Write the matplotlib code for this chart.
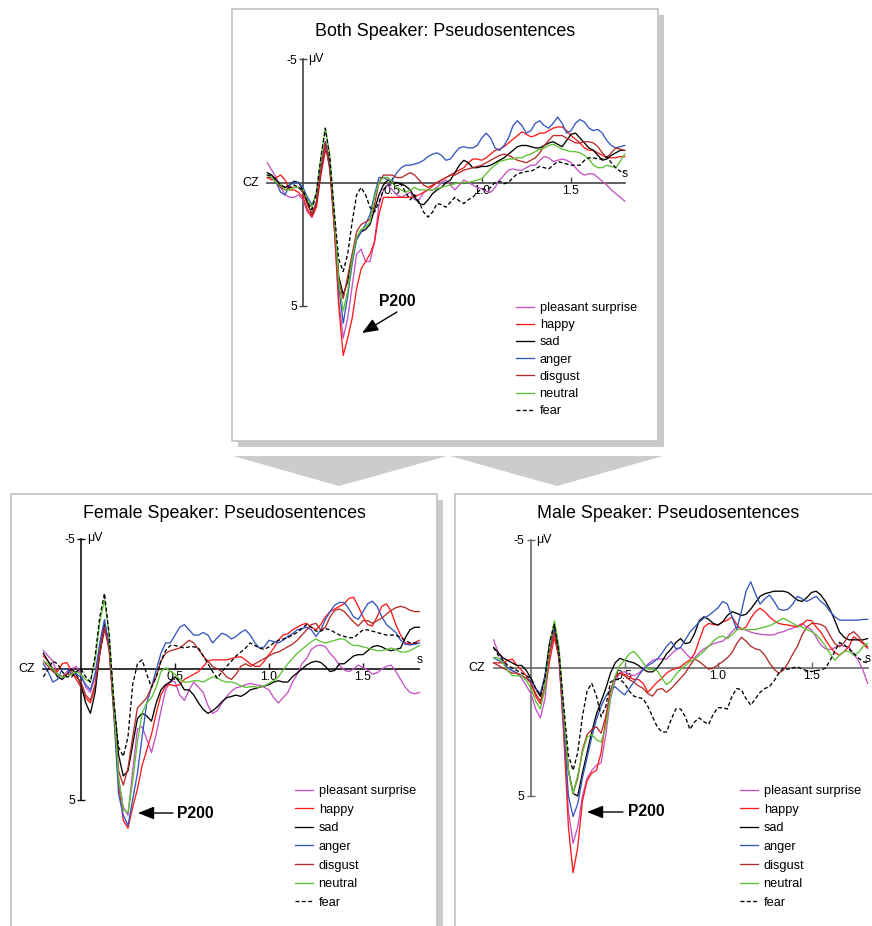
import numpy as np
import matplotlib
matplotlib.use('Agg')
import matplotlib.pyplot as plt
from matplotlib.patches import Rectangle, Polygon

plt.rcParams['font.family'] = ['Liberation Sans', 'DejaVu Sans']

W, H = 872, 926

# sample times (s), one value every 25 ms from -0.2 to 1.8 s
times = np.linspace(-0.2, 1.8, 81)

conditions = ['pleasant surprise', 'happy', 'sad', 'anger', 'disgust', 'neutral', 'fear']
colors = ['#c452c4', '#ff1a1a', '#000000', '#3556bd', '#b52c2c', '#5cc234', '#000000']
styles = ['-', '-', '-', '-', '-', '-', '--']

# ---- Both speakers (uV, negative up) ----
both_surprise = [-0.8, -0.5, -0.2, 0.2, 0.5, 0.6, 0.6, 0.5, 0.7, 1.2,
                 1.4, 0.9, -0.4, -1.4, -0.8, 1.8, 4.8, 6.3, 5.5, 4.2,
                 2.9, 2.7, 3.2, 3.2, 2.4, 0.9, 0.3, 0.1, 0.3, 0.5,
                 0.6, 0.5, 0.4, 0.7, 0.7, 0.4, 0.3, 0.3, 0.2, 0.0,
                 -0.1, 0.1, 0.3, 0.1, -0.1, 0.0, 0.1, 0.2, 0.25, 0.35,
                 0.4, 0.2, -0.1, -0.3, -0.5, -0.55, -0.5, -0.5, -0.6, -0.7,
                 -0.7, -0.9, -1.05, -1.0, -0.85, -0.9, -0.95, -0.9, -0.8, -0.6,
                 -0.4, -0.3, -0.35, -0.35, -0.2, -0.05, 0.1, 0.3, 0.45, 0.6,
                 0.75]
both_happy = [-0.2, -0.1, -0.2, -0.3, -0.1, 0.3, 0.3, 0.4, 0.6, 1.1,
              1.4, 1.0, -0.3, -1.3, -0.9, 1.8, 5.0, 7.0, 6.3, 5.5,
              4.3, 3.5, 3.2, 2.9, 2.4, 1.3, 0.6, 0.6, 0.6, 0.6,
              0.6, 0.6, 0.6, 0.55, 0.5, 0.4, 0.3, 0.15, 0.0, -0.1,
              -0.2, -0.3, -0.4, -0.5, -0.6, -0.8, -0.95, -0.95, -0.9, -1.0,
              -1.15, -1.3, -1.35, -1.45, -1.6, -1.75, -1.9, -2.05, -1.95, -1.85,
              -1.9, -2.0, -2.0, -2.1, -2.2, -2.25, -2.25, -2.1, -1.9, -1.75,
              -1.6, -1.4, -1.3, -1.3, -1.2, -1.1, -1.0, -1.0, -1.0, -1.05,
              -1.05]
both_sad = [-0.4, -0.3, -0.1, 0.1, 0.2, 0.1, -0.05, 0.0, 0.3, 0.8,
            1.3, 0.8, -0.5, -1.65, -0.7, 1.5, 3.8, 4.55, 4.0, 3.0,
            2.3, 2.0, 1.9, 1.7, 1.1, 0.5, 0.1, -0.1, 0.0, 0.0,
            0.05, 0.15, 0.3, 0.6, 0.85, 0.9, 0.7, 0.45, 0.3, 0.2,
            0.0, -0.1, -0.4, -0.7, -0.9, -0.8, -0.6, -0.6, -0.65, -0.65,
            -0.7, -0.8, -0.9, -1.0, -1.15, -1.3, -1.45, -1.5, -1.5, -1.45,
            -1.4, -1.4, -1.5, -1.6, -1.65, -1.55, -1.45, -1.7, -1.95, -2.0,
            -1.8, -1.6, -1.4, -1.3, -1.1, -0.9, -0.95, -1.1, -1.2, -1.3,
            -1.3]
both_anger = [-0.3, -0.2, 0.0, 0.4, 0.5, 0.1, 0.0, 0.0, 0.2, 0.6,
              0.9, 0.5, -0.6, -1.6, -0.6, 1.6, 4.2, 5.7, 4.6, 3.3,
              2.3, 2.0, 1.7, 1.3, 0.5, -0.2, -0.2, -0.1, -0.1, -0.4,
              -0.6, -0.7, -0.7, -0.75, -0.8, -0.9, -1.05, -1.15, -1.2, -1.1,
              -0.9, -0.95, -1.2, -1.4, -1.45, -1.4, -1.4, -1.5, -1.8, -2.0,
              -1.8, -1.4, -1.3, -1.5, -1.8, -2.3, -2.5, -2.3, -2.0, -2.1,
              -2.4, -2.5, -2.3, -2.2, -2.4, -2.65, -2.4, -2.0, -2.1, -2.4,
              -2.55, -2.45, -2.2, -2.1, -2.15, -2.0, -1.7, -1.5, -1.4, -1.45,
              -1.5]
both_disgust = [-0.2, -0.2, 0.0, 0.2, 0.3, 0.2, 0.2, 0.2, 0.4, 0.9,
                1.3, 0.8, -0.5, -1.6, -0.5, 1.8, 4.0, 4.7, 3.8, 2.9,
                2.0, 1.7, 1.6, 1.5, 0.9, 0.0, -0.3, -0.3, -0.3, -0.2,
                -0.2, -0.3, -0.4, -0.3, -0.1, 0.1, 0.2, 0.1, 0.0, -0.1,
                -0.2, -0.3, -0.3, -0.4, -0.5, -0.55, -0.6, -0.65, -0.7, -0.8,
                -0.9, -1.0, -1.1, -1.15, -1.1, -1.0, -0.9, -0.85, -0.8, -0.9,
                -1.0, -1.2, -1.5, -1.7, -1.9, -1.9, -1.9, -1.8, -1.7, -1.6,
                -1.6, -1.65, -1.65, -1.6, -1.45, -1.2, -1.0, -1.2, -1.4, -1.35,
                -1.3]
both_neutral = [-0.3, -0.2, 0.0, 0.1, 0.3, 0.3, 0.2, 0.2, 0.3, 0.7,
                1.0, 0.4, -1.0, -2.2, -1.1, 1.3, 4.0, 5.2, 4.4, 3.1,
                2.2, 1.9, 1.8, 1.6, 0.6, 0.0, -0.2, -0.2, 0.0, 0.2,
                0.3, 0.4, 0.3, 0.2, 0.3, 0.3, 0.3, 0.3, 0.25, 0.2,
                0.15, 0.1, 0.05, 0.0, 0.0, 0.0, -0.05, -0.1, -0.15, -0.35,
                -0.55, -0.7, -0.85, -0.9, -0.95, -0.95, -1.0, -1.0, -1.1, -1.15,
                -1.25, -1.35, -1.4, -1.5, -1.55, -1.45, -1.35, -1.3, -1.25, -1.25,
                -1.2, -1.1, -0.95, -0.7, -0.6, -0.6, -0.7, -0.65, -0.6, -0.85,
                -1.15]
both_fear = [-0.3, -0.3, -0.1, 0.1, 0.2, 0.2, 0.1, 0.2, 0.3, 0.8,
             1.1, 0.4, -1.0, -2.2, -1.0, 1.2, 3.1, 3.6, 2.9, 1.6,
             0.5, 0.2, 0.5, 1.0, 1.2, 0.8, 0.3, 0.1, 0.1, 0.0,
             0.1, 0.4, 0.7, 0.5, 0.8, 1.2, 1.4, 1.2, 0.85, 0.9,
             1.0, 0.8, 0.6, 0.75, 0.85, 0.7, 0.6, 0.4, 0.25, 0.3,
             0.2, 0.0, -0.05, 0.05, 0.0, -0.2, -0.35, -0.4, -0.45, -0.45,
             -0.55, -0.65, -0.6, -0.55, -0.7, -0.85, -0.8, -0.75, -0.7, -0.7,
             -0.7, -0.9, -1.0, -1.0, -0.95, -0.95, -1.05, -0.8, -0.6, -0.45,
             -0.45]

# ---- Female speaker ----
female_surprise = [-0.7, -0.5, -0.3, 0.2, 0.3, 0.1, 0.0, -0.1, 0.2, 0.7,
                   0.9, 0.3, -0.9, -1.8, -1.0, 1.4, 4.2, 5.3, 5.6, 3.9,
                   2.3, 2.2, 2.7, 3.2, 2.5, 1.6, 0.8, 0.45, 0.5, 1.0,
                   1.2, 0.8, 0.5, 0.7, 0.9, 1.4, 1.7, 1.6, 1.3, 1.05,
                   0.85, 0.72, 0.68, 0.6, 0.55, 0.6, 0.62, 0.7, 0.8, 1.1,
                   1.3, 1.1, 0.9, 0.5, 0.2, -0.2, -0.4, -0.75, -0.88, -0.92,
                   -0.85, -0.6, -0.4, -0.15, 0.04, 0.1, 0.0, -0.15, -0.05, 0.05,
                   0.2, 0.15, 0.0, -0.1, -0.15, 0.1, 0.4, 0.7, 0.9, 0.95,
                   0.9]
female_happy = [-0.5, -0.3, 0.0, 0.1, -0.2, -0.25, 0.1, 0.4, 0.7, 1.1,
                1.3, 0.7, -0.6, -1.5, -0.9, 1.6, 4.4, 5.8, 6.1, 5.3,
                4.6, 3.7, 3.1, 2.5, 1.7, 1.0, 0.65, 0.6, 0.65, 0.6,
                0.4, 0.3, 0.2, 0.1, -0.1, -0.3, -0.35, -0.35, -0.35, -0.35,
                -0.4, -0.45, -0.47, -0.35, -0.2, -0.1, -0.1, -0.3, -0.55, -0.8,
                -1.1, -1.3, -1.35, -1.5, -1.6, -1.7, -1.75, -1.6, -1.5, -1.7,
                -2.0, -2.2, -2.3, -2.4, -2.5, -2.7, -2.75, -2.4, -2.0, -1.7,
                -1.65, -2.0, -2.4, -2.5, -2.2, -1.7, -1.3, -1.0, -0.95, -1.0,
                -1.1]
female_sad = [-0.6, -0.3, 0.0, 0.3, 0.4, 0.2, 0.0, 0.2, 0.6, 1.3,
              1.7, 0.9, -0.6, -1.7, -0.8, 1.3, 3.3, 4.1, 3.9, 2.9,
              1.9, 1.7, 1.8, 2.0, 1.3, 0.8, 0.6, 0.5, 0.3, 0.5,
              0.8, 0.8, 1.0, 1.3, 1.55, 1.7, 1.6, 1.45, 1.25, 1.1,
              1.05, 1.0, 1.05, 0.95, 0.8, 0.75, 0.7, 0.65, 0.6, 0.5,
              0.45, 0.5, 0.5, 0.3, 0.15, 0.0, -0.15, -0.25, -0.3, -0.25,
              -0.1, 0.1, 0.05, -0.2, -0.2, -0.35, -0.5, -0.55, -0.55, -0.7,
              -0.85, -0.9, -0.85, -0.75, -0.7, -0.75, -0.8, -1.2, -1.5, -1.6,
              -1.6]
female_anger = [-0.2, 0.1, 0.5, 0.4, 0.0, 0.0, 0.2, 0.2, 0.3, 0.6,
                0.8, 0.2, -1.0, -1.9, -0.8, 1.8, 4.8, 5.6, 6.0, 5.0,
                4.0, 2.6, 1.3, 0.7, 0.05, -0.6, -1.0, -1.0, -1.3, -1.6,
                -1.7, -1.5, -1.3, -1.3, -1.4, -1.3, -1.0, -1.2, -1.37, -1.3,
                -1.15, -1.25, -1.4, -1.5, -1.3, -1.0, -0.8, -0.85, -1.1, -1.05,
                -1.0, -1.1, -1.25, -1.35, -1.5, -1.55, -1.6, -1.5, -1.25, -1.5,
                -1.9, -2.2, -2.45, -2.55, -2.55, -2.3, -2.0, -1.9, -2.2, -2.5,
                -2.6, -2.4, -2.0, -1.7, -1.55, -1.4, -1.1, -0.95, -0.92, -0.95,
                -1.0]
female_disgust = [-0.3, -0.1, 0.1, 0.2, 0.3, 0.2, 0.2, 0.3, 0.5, 1.0,
                  1.2, 0.6, -0.6, -1.6, -0.7, 1.7, 3.9, 4.45, 3.8, 2.6,
                  1.5, 1.3, 1.1, 0.7, 0.3, -0.3, -0.6, -0.7, -0.75, -0.8,
                  -0.95, -1.1, -1.0, -0.75, -0.5, -0.3, -0.1, 0.0, 0.1, 0.3,
                  0.4, 0.2, -0.1, -0.2, -0.1, -0.2, -0.3, -0.4, -0.5, -0.6,
                  -0.65, -0.75, -0.85, -0.95, -1.1, -1.3, -1.5, -1.7, -1.75, -1.5,
                  -1.6, -2.0, -2.25, -2.3, -2.2, -2.0, -1.8, -1.65, -1.85, -1.85,
                  -1.75, -1.85, -1.95, -2.1, -2.25, -2.35, -2.4, -2.35, -2.25, -2.2,
                  -2.2]
female_neutral = [-0.3, -0.2, 0.0, 0.2, 0.3, 0.3, 0.2, 0.1, 0.2, 0.4,
                  0.5, -0.3, -1.8, -2.65, -1.3, 1.4, 4.2, 5.4, 5.5, 4.3,
                  2.8, 1.7, 1.3, 1.1, 0.7, 0.1, -0.05, 0.1, 0.2, 0.4,
                  0.5, 0.5, 0.45, 0.45, 0.5, 0.4, 0.3, 0.35, 0.45, 0.5,
                  0.5, 0.55, 0.65, 0.7, 0.68, 0.68, 0.7, 0.65, 0.55, 0.45,
                  0.3, 0.05, -0.2, -0.4, -0.6, -0.75, -0.9, -1.05, -1.15, -1.05,
                  -1.0, -1.05, -1.1, -1.15, -1.15, -1.0, -0.9, -0.9, -0.85, -0.8,
                  -0.75, -0.7, -0.7, -0.75, -0.8, -0.75, -0.65, -0.65, -0.7, -0.8,
                  -0.9]
female_fear = [0.3, 0.0, -0.3, -0.2, 0.1, 0.3, 0.3, 0.1, 0.0, 0.3,
               0.5, -0.5, -2.0, -2.9, -1.3, 1.3, 3.0, 3.35, 2.6, 0.6,
               -0.2, -0.35, 0.2, 0.7, 0.3, -0.3, -0.7, -0.9, -0.9, -0.85,
               -0.8, -0.85, -0.85, -0.8, -0.5, -0.2, 0.1, 0.35, 0.1, -0.1,
               -0.3, -0.5, -0.65, -0.8, -1.0, -0.9, -0.8, -0.75, -0.85, -1.0,
               -1.1, -1.15, -1.2, -1.3, -1.4, -1.55, -1.7, -1.6, -1.45, -1.45,
               -1.55, -1.5, -1.4, -1.3, -1.25, -1.2, -1.2, -1.35, -1.5, -1.5,
               -1.45, -1.4, -1.35, -1.3, -1.3, -1.3, -1.2, -1.1, -1.0, -1.0,
               -1.0]

# ---- Male speaker ----
male_surprise = [-1.1, -0.6, -0.3, 0.0, 0.1, 0.2, 0.4, 0.7, 1.0, 1.6,
                 1.95, 1.2, -0.6, -1.5, -0.3, 2.4, 5.6, 6.85, 6.2, 5.0,
                 4.3, 4.0, 3.8, 3.7, 2.6, 1.2, 0.5, 0.2, 0.14, 0.25,
                 0.3, 0.2, 0.05, -0.15, -0.3, -0.35, -0.35, -0.35, -0.55, -0.7,
                 -0.8, -0.6, -0.4, -0.4, -0.6, -0.75, -0.85, -0.95, -1.0, -1.05,
                 -1.2, -1.42, -1.6, -1.55, -1.48, -1.4, -1.35, -1.32, -1.3, -1.29,
                 -1.3, -1.38, -1.42, -1.5, -1.55, -1.65, -1.74, -1.6, -1.5, -1.2,
                 -0.9, -0.75, -0.72, -0.8, -0.9, -0.85, -0.83, -0.55, -0.3, 0.08,
                 0.6]
male_happy = [-0.2, -0.2, -0.2, -0.3, -0.35, -0.1, 0.1, 0.3, 0.6, 1.1,
              1.4, 0.8, -0.3, -1.2, -0.4, 2.6, 6.2, 8.0, 7.0, 5.2,
              4.4, 4.1, 4.0, 3.3, 2.0, 0.9, 0.35, 0.2, 0.25, 0.34,
              0.45, 0.45, 0.6, 0.95, 0.75, 0.55, 0.4, 0.2, 0.08, 0.02,
              -0.05, -0.2, -0.31, -0.57, -1.1, -1.6, -1.74, -1.7, -1.68, -1.8,
              -1.87, -2.0, -1.7, -1.5, -1.6, -1.94, -2.2, -2.33, -2.2, -2.0,
              -1.85, -1.74, -1.7, -1.68, -1.64, -1.6, -1.7, -1.87, -1.85, -1.6,
              -1.4, -1.1, -0.83, -0.6, -0.5, -0.65, -0.83, -1.22, -1.1, -0.96,
              -0.77]
male_sad = [-0.8, -0.6, -0.4, -0.3, -0.2, -0.1, -0.1, 0.1, 0.4, 0.8,
            1.1, 0.3, -1.0, -1.75, -0.5, 1.9, 4.0, 4.9, 5.0, 4.1,
            3.3, 2.5, 1.8, 1.3, 0.8, 0.2, -0.2, -0.38, -0.3, -0.25,
            -0.2, -0.1, 0.05, 0.15, 0.15, 0.0, -0.25, -0.55, -0.75, -1.0,
            -1.15, -0.95, -1.0, -1.35, -1.85, -2.0, -1.9, -1.74, -1.68, -1.8,
            -2.05, -2.2, -2.14, -2.05, -2.1, -2.3, -2.55, -2.8, -2.9, -2.95,
            -3.0, -3.0, -3.0, -2.95, -2.8, -2.65, -2.6, -2.75, -2.95, -3.0,
            -2.85, -2.6, -2.27, -1.85, -1.4, -1.2, -1.1, -1.1, -1.1, -1.1,
            -1.15]
male_anger = [-0.4, -0.3, -0.2, 0.0, 0.1, 0.2, 0.3, 0.4, 0.5, 0.8,
              1.0, 0.3, -0.8, -1.5, -0.4, 2.2, 5.0, 5.8, 5.3, 4.3,
              3.5, 2.7, 2.0, 1.5, 1.1, 0.85, 0.73, 0.9, 1.05, 0.8,
              0.55, 0.3, 0.05, -0.1, -0.2, -0.35, -0.57, -0.85, -1.03, -0.75,
              -0.8, -1.1, -1.4, -1.6, -1.8, -1.95, -2.05, -2.2, -2.35, -2.6,
              -2.5, -2.0, -1.5, -2.2, -3.0, -3.37, -2.9, -2.5, -2.7, -2.85,
              -2.6, -2.3, -2.25, -2.3, -2.5, -2.8, -2.7, -2.6, -2.7, -2.8,
              -2.6, -2.45, -2.2, -2.0, -1.87, -1.87, -1.87, -1.87, -1.87, -1.9,
              -1.9]
male_disgust = [-0.2, -0.1, 0.0, 0.1, 0.2, 0.2, 0.3, 0.4, 0.6, 1.0,
                1.3, 0.7, -0.6, -1.4, -0.4, 1.8, 4.0, 4.9, 4.3, 3.2,
                2.6, 2.4, 2.3, 2.55, 1.9, 0.9, 0.35, 0.2, 0.3, 0.45,
                0.55, 0.7, 0.8, 1.0, 1.1, 0.85, 0.8, 0.95, 0.8, 0.6,
                0.4, 0.2, -0.1, -0.35, -0.25, -0.1, 0.05, 0.0, -0.12, -0.25,
                -0.4, -0.6, -0.95, -1.2, -1.05, -0.85, -0.75, -0.7, -0.5, -0.2,
                0.05, 0.2, 0.08, -0.2, -0.55, -0.85, -1.3, -1.6, -1.74, -1.74,
                -1.7, -1.6, -1.25, -0.95, -0.83, -1.0, -1.3, -1.42, -1.25, -1.0,
                -0.83]
male_neutral = [-0.4, -0.4, -0.2, 0.1, 0.3, 0.3, 0.3, 0.5, 0.8, 1.3,
                1.6, 0.8, -0.9, -1.85, -0.8, 1.7, 4.0, 4.9, 4.2, 3.3,
                2.7, 2.6, 2.8, 2.9, 2.3, 1.1, 0.3, -0.1, -0.3, -0.55,
                -0.65, -0.45, -0.2, 0.05, 0.05, 0.1, 0.4, 0.65, 0.5, 0.25,
                0.05, -0.1, -0.25, -0.35, -0.5, -0.65, -0.85, -1.05, -1.2, -1.25,
                -1.15, -1.3, -1.48, -1.55, -1.5, -1.5, -1.5, -1.55, -1.6, -1.65,
                -1.74, -1.85, -1.94, -1.85, -1.74, -1.65, -1.6, -1.5, -1.42, -1.3,
                -1.1, -0.85, -0.55, -0.3, -0.5, -0.65, -0.65, -0.5, -0.6, -0.83,
                -0.96]
male_fear = [-0.8, -0.5, -0.3, -0.1, 0.0, 0.1, 0.2, 0.3, 0.4, 0.8,
             1.1, 0.4, -1.0, -1.7, -0.6, 1.5, 3.4, 4.0, 3.3, 1.9,
             0.9, 0.6, 1.1, 1.9, 1.5, 0.55, 0.45, 0.45, 0.6, 0.9,
             1.1, 1.15, 1.2, 1.5, 1.9, 2.3, 2.5, 2.5, 2.0, 1.6,
             1.6, 1.9, 2.4, 2.1, 1.95, 2.1, 2.2, 1.8, 1.55, 1.55,
             1.6, 1.1, 0.8, 0.85, 1.2, 1.45, 1.2, 0.95, 0.8, 0.73,
             0.5, 0.2, 0.0, 0.05, 0.0, -0.05, 0.05, 0.1, 0.14, 0.1,
             0.08, 0.0, -0.3, -0.65, -1.0, -0.9, -0.75, -0.57, -0.4, -0.25,
             -0.2]

both = [both_surprise, both_happy, both_sad, both_anger, both_disgust, both_neutral, both_fear]
female = [female_surprise, female_happy, female_sad, female_anger, female_disgust, female_neutral, female_fear]
male = [male_surprise, male_happy, male_sad, male_anger, male_disgust, male_neutral, male_fear]

fig = plt.figure(figsize=(W / 100, H / 100), dpi=100)

# background layer in pixel coordinates: boxes, shadows, big arrows, labels
bg = fig.add_axes([0, 0, 1, 1])
bg.set_xlim(0, W)
bg.set_ylim(H, 0)
bg.axis('off')

def box(x, y, w, h):
    bg.add_patch(Rectangle((x + 6, y + 6), w, h, facecolor='#cbcbcb', edgecolor='none'))
    bg.add_patch(Rectangle((x, y), w, h, facecolor='white', edgecolor='#c6c6c6', lw=1.3))

box(232, 9, 426, 432)
box(11, 494, 426, 500)
box(455, 494, 426, 500)
bg.add_patch(Polygon([(233, 456), (447, 456), (339, 486)], closed=True, facecolor='#cccccc', edgecolor='none'))
bg.add_patch(Polygon([(450, 456), (663, 456), (557, 486)], closed=True, facecolor='#cccccc', edgecolor='none'))

bg.text(445, 32, 'Both Speaker: Pseudosentences', ha='center', va='center', fontsize=12.9)
bg.text(224, 513, 'Female Speaker: Pseudosentences', ha='center', va='center', fontsize=12.9)
bg.text(668, 513, 'Male Speaker: Pseudosentences', ha='center', va='center', fontsize=12.9)

arrow = dict(arrowstyle='-|>,head_length=0.7,head_width=0.28', color='black', lw=1.0,
             shrinkA=0, shrinkB=0, mutation_scale=14)
bg.text(397, 302, 'P200', ha='center', va='center', fontsize=11.3, fontweight='bold')
bg.annotate('', xy=(362, 333), xytext=(397, 312), arrowprops=arrow)
bg.text(195, 813, 'P200', ha='center', va='center', fontsize=11.3, fontweight='bold')
bg.annotate('', xy=(138, 813), xytext=(173, 813), arrowprops=arrow)
bg.text(646, 812, 'P200', ha='center', va='center', fontsize=11.3, fontweight='bold')
bg.annotate('', xy=(587, 812), xytext=(623, 812), arrowprops=arrow)


def panel(series, x0, sx, y0, sy, axis_color, leg_xy, leg_space):
    t_lo, t_hi = -0.3, 1.9
    v_lo, v_hi = -6.5, 9.0
    left = x0 + sx * t_lo
    right = x0 + sx * t_hi
    top = y0 + sy * v_lo
    bottom = y0 + sy * v_hi
    ax = fig.add_axes([left / W, 1 - bottom / H, (right - left) / W, (bottom - top) / H])
    ax.set_xlim(t_lo, t_hi)
    ax.set_ylim(v_hi, v_lo)
    ax.patch.set_alpha(0)

    for vals, name, c, ls in zip(series, conditions, colors, styles):
        ax.plot(times, vals, color=c, ls=ls, lw=0.95, label=name, zorder=3,
                dashes=(3, 1.8) if ls == '--' else (None, None))

    for s in ['top', 'right']:
        ax.spines[s].set_visible(False)
    ax.spines['left'].set_position(('data', 0))
    ax.spines['bottom'].set_position(('data', 0))
    ax.spines['left'].set_bounds(-5, 5)
    ax.spines['bottom'].set_bounds(-0.2, 1.8)
    for s in ['left', 'bottom']:
        ax.spines[s].set_color(axis_color)
        ax.spines[s].set_linewidth(1.2)
    ax.set_yticks([-5, 5])
    ax.set_yticklabels(['-5', '5'])
    ax.set_xticks([0.5, 1.0, 1.5])
    ax.set_xticklabels(['0.5', '1.0', '1.5'])
    ax.tick_params(axis='y', direction='inout', length=6, width=1, pad=1.5,
                   labelsize=8.8, color=axis_color)
    ax.tick_params(axis='x', direction='in', length=4, width=1, pad=1.5,
                   labelsize=8.8, color=axis_color)

    ax.text(0.03, -5, '\u03bcV', ha='left', va='center', fontsize=8.8)
    ax.text(-0.245, 0, 'CZ', ha='right', va='center', fontsize=9)
    ax.text(1.8, -0.12, 's', ha='center', va='bottom', fontsize=8.8)

    ax.legend(loc='upper left', bbox_to_anchor=(leg_xy[0] / W, 1 - leg_xy[1] / H),
              bbox_transform=fig.transFigure, frameon=False, fontsize=9.2,
              handlelength=1.4, handletextpad=0.45, labelspacing=leg_space,
              borderpad=0, borderaxespad=0)
    return ax

panel(both, 303, 178.7, 182.5, 24.7, '#444444', (516, 302), 0.41)
panel(female, 81, 188, 669, 26.1, '#111111', (295, 785), 0.52)
panel(male, 531, 187, 668, 25.6, '#6a6a6a', (740, 785), 0.52)

fig.savefig('out.png', dpi=100)
